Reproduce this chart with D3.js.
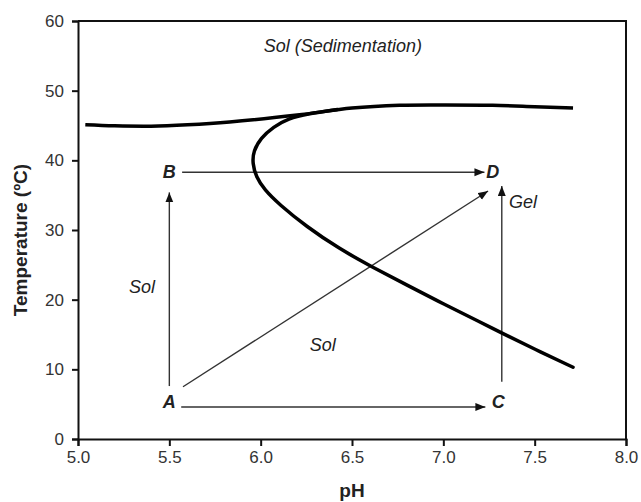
<!DOCTYPE html>
<html>
<head>
<meta charset="utf-8">
<script src="https://cdn.jsdelivr.net/npm/d3@7"></script>
<style>
  body { margin: 0; background: #fff; }
  svg { display: block; font-family: "Liberation Sans", Arial, sans-serif; }
</style>
</head>
<body>
<div id="chart"></div>
<script>
// phase boundary: upper (sedimentation) line, pH vs temperature
const upperLine = [
    [5.04, 45.1], [5.2, 44.95], [5.4, 44.9], [5.6, 45.1], [5.83, 45.5],
    [6.2, 46.5], [6.5, 47.5], [6.76, 47.9], [7.0, 47.95], [7.27, 47.9],
    [7.5, 47.7], [7.71, 47.5]
];

// sol-gel boundary (C-shaped curve)
const gelCurve = [
    [6.42, 47.3], [6.26, 46.7], [6.15, 46.0], [6.07, 44.8], [6.0, 43.2],
    [5.96, 41.3], [5.955, 39.6], [5.975, 37.6], [6.02, 35.8], [6.1, 33.7],
    [6.25, 30.5], [6.43, 27.3], [6.61, 24.7], [6.8, 22.1], [7.0, 19.4],
    [7.2, 16.8], [7.32, 15.2], [7.5, 12.9], [7.71, 10.3]
];

// arrows between states [from, to]
const arrows = [
    [[5.5, 7.6], [5.5, 35.4]],     // A -> B
    [[5.565, 4.6], [7.23, 4.6]],   // A -> C
    [[5.575, 7.5], [7.245, 35.6]], // A -> D
    [[5.57, 38.3], [7.225, 38.3]], // B -> D
    [[7.32, 8.2], [7.32, 36.3]]    // C -> D
];

const pointLabels = [
    { text: "A", ph: 5.5, t: 5.3, anchor: "middle" },
    { text: "B", ph: 5.5, t: 38.3, anchor: "middle" },
    { text: "C", ph: 7.3, t: 5.3, anchor: "middle" },
    { text: "D", ph: 7.27, t: 38.3, anchor: "middle" },
    { text: "Gel", ph: 7.36, t: 34.1, anchor: "start" },
    { text: "Sol", ph: 5.35, t: 21.9, anchor: "middle" },
    { text: "Sol", ph: 6.34, t: 13.6, anchor: "middle" },
    { text: "Sol (Sedimentation)", ph: 6.45, t: 56.5, anchor: "middle" }
];

const xTicks = [5.0, 5.5, 6.0, 6.5, 7.0, 7.5, 8.0];
const yTicks = [0, 10, 20, 30, 40, 50, 60];

const W = 641, H = 502;
const margin = { top: 21, right: 15, bottom: 63, left: 78 };
const width = W - margin.left - margin.right;
const height = H - margin.top - margin.bottom;

const svg = d3.select("#chart").append("svg")
    .attr("width", W)
    .attr("height", H);

svg.append("defs").append("marker")
    .attr("id", "head")
    .attr("markerUnits", "userSpaceOnUse")
    .attr("markerWidth", 11)
    .attr("markerHeight", 9)
    .attr("refX", 10)
    .attr("refY", 4)
    .attr("orient", "auto")
    .append("path")
    .attr("d", "M0,0 L10,4 L0,8 Z")
    .attr("fill", "#111");

const g = svg.append("g")
    .attr("transform", "translate(" + margin.left + "," + margin.top + ")");

const x = d3.scaleLinear().domain([5, 8]).range([0, width]);
const y = d3.scaleLinear().domain([0, 60]).range([height, 0]);

// frame (top + right)
g.append("path")
    .attr("d", "M0,0 H" + width + " V" + height)
    .attr("fill", "none")
    .attr("stroke", "#111")
    .attr("stroke-width", 2);

const xAxis = g.append("g")
    .attr("transform", "translate(0," + height + ")")
    .call(d3.axisBottom(x).tickValues(xTicks).tickFormat(d3.format(".1f")).tickSize(7).tickPadding(5));

const yAxis = g.append("g")
    .call(d3.axisLeft(y).tickValues(yTicks).tickFormat(d3.format("d")).tickSize(6).tickPadding(8));

[xAxis, yAxis].forEach(ax => {
    ax.select(".domain").attr("stroke", "#111").attr("stroke-width", 2);
    ax.selectAll(".tick line").attr("stroke", "#111").attr("stroke-width", 2);
    ax.selectAll(".tick text")
        .attr("fill", "#333")
        .style("font-size", "17px")
        .style("font-family", "'Liberation Sans', Arial, sans-serif");
});

// axis titles
svg.append("text")
    .attr("x", margin.left + width / 2)
    .attr("y", 497)
    .attr("text-anchor", "middle")
    .style("font-size", "19px")
    .style("font-weight", "bold")
    .attr("fill", "#222")
    .text("pH");

svg.append("text")
    .attr("transform", "translate(27," + (margin.top + height / 2 + 10) + ") rotate(-90)")
    .attr("text-anchor", "middle")
    .style("font-size", "19px")
    .style("font-weight", "bold")
    .attr("fill", "#222")
    .text("Temperature (ºC)");

// arrows
g.selectAll(".arrow")
    .data(arrows)
    .enter()
    .append("line")
    .attr("class", "arrow")
    .attr("x1", d => x(d[0][0]))
    .attr("y1", d => y(d[0][1]))
    .attr("x2", d => x(d[1][0]))
    .attr("y2", d => y(d[1][1]))
    .attr("stroke", "#333")
    .attr("stroke-width", 1.4)
    .attr("marker-end", "url(#head)");

// boundary curves
const line = d3.line()
    .x(d => x(d[0]))
    .y(d => y(d[1]))
    .curve(d3.curveCatmullRom.alpha(0.5));

g.append("path")
    .datum(upperLine)
    .attr("d", line)
    .attr("fill", "none")
    .attr("stroke", "#000")
    .attr("stroke-width", 3.5);

g.append("path")
    .datum(gelCurve)
    .attr("d", line.curve(d3.curveBasis))
    .attr("fill", "none")
    .attr("stroke", "#000")
    .attr("stroke-width", 3.5)
    .attr("stroke-linecap", "round");

// labels
g.selectAll(".lbl")
    .data(pointLabels)
    .enter()
    .append("text")
    .attr("class", "lbl")
    .attr("x", d => x(d.ph))
    .attr("y", d => y(d.t))
    .attr("dy", "0.35em")
    .attr("text-anchor", d => d.anchor)
    .style("font-size", "18px")
    .style("font-style", "italic")
    .style("font-weight", d => d.text.length === 1 ? "bold" : "normal")
    .attr("fill", "#222")
    .text(d => d.text);
</script>
</body>
</html>
